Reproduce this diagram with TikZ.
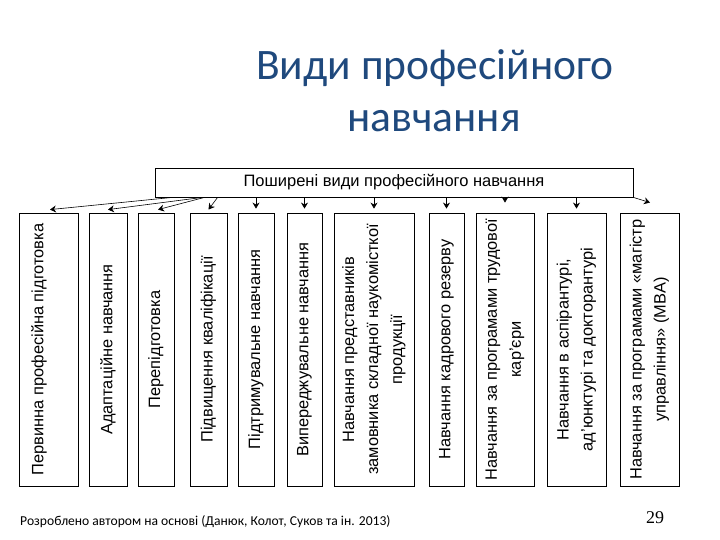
\documentclass[tikz,border=0pt]{standalone}
\usepackage{fontspec}
\setmainfont{Liberation Sans}
\newfontfamily\titlefont{Carlito}
\newfontfamily\numfont{Liberation Serif}
\usetikzlibrary{arrows.meta,calc}
\definecolor{titleblue}{RGB}{31,73,125}
\begin{document}
\begin{tikzpicture}[x=1pt,y=1pt,
  vbox/.style={draw, line width=0.8pt, rotate=90, minimum width=273pt, inner sep=0pt, align=center, font=\fontsize{16.4}{24}\selectfont},
  topbox/.style={draw, line width=0.8pt, minimum width=478pt, minimum height=29pt, inner sep=0pt, font=\fontsize{16.5}{19}\selectfont},
  conn/.style={-{Stealth[length=6pt,width=7pt]}, line width=0.6pt},
]
\useasboundingbox (0,0) rectangle (720,540);
% title
\node[font=\titlefont\fontsize{43.5}{50}\selectfont, text=titleblue, anchor=base] (title1) at (435,460) {Види професійного};
\node[font=\titlefont\fontsize{43.5}{50}\selectfont, text=titleblue, anchor=base] (title2) at (434,408) {навчання};
% top box
\node[topbox] (top) at (394,357.5) {Поширені види професійного навчання};
% vertical boxes
\node[vbox, minimum height=59pt] (b1) at (48.5,190.5) {};
\node[rotate=90, inner sep=0pt, font=\fontsize{16.4}{24}\selectfont] (t1) at (39,190.5) {Первинна професійна підготовка};
\node[vbox, minimum height=38pt] (b2) at (108,190.5) {Адаптаційне навчання};
\node[vbox, minimum height=36pt] (b3) at (156,190.5) {Перепідготовка};
\node[vbox, minimum height=37pt] (b4) at (208.5,190.5) {Підвищення кваліфікації};
\node[vbox, minimum height=36pt] (b5) at (256,190.5) {Підтримувальне навчання};
\node[vbox, minimum height=35pt] (b6) at (304.5,190.5) {Випереджувальне навчання};
\node[vbox, minimum height=80pt] (b7) at (374,190.5) {Навчання представників\\замовника складної наукомісткої\\продукції};
\node[vbox, minimum height=35pt] (b8) at (446.5,190.5) {Навчання кадрового резерву};
\node[vbox, minimum height=58pt] (b9) at (505,190.5) {Навчання за програмами трудової\\кар'єри};
\node[vbox, minimum height=59pt] (b10) at (576.5,190.5) {Навчання в аспірантурі,\\ад'юнктурі та докторантурі};
\node[vbox, minimum height=59pt] (b11) at (649.5,190.5) {Навчання за програмами «магістр\\управління» (MBA)};
% start points on the top box
\coordinate (s1) at ($(top.south west)+(18,0)$);
\coordinate (s2) at ($(top.south west)+(48,0)$);
\coordinate (s3) at ($(top.south west)+(50,0)$);
\coordinate (s4) at ($(top.south west)+(63,0)$);
% connectors
\draw[conn] (s1) -- ($(b1.east)+(1.5,3)$);
\draw[conn] (s2) -- ($(b2.east)+(0,3)$);
\draw[conn] (s3) -- ($(b3.east)+(2,3)$);
\draw[conn] (s4) -- ($(b4.east)+(0,3)$);
\foreach \b in {b5,b6,b7,b8,b10}{
  \draw[conn] (\b.east |- top.south) -- ($(\b.east)+(0,4)$);
}
\draw[conn] (b9.east |- top.south) -- ($(b9.east)+(0,10)$);
\draw[conn] (top.south east) -- ($(b11.east)+(0.5,10)$);
% footer
\node[anchor=base west, inner sep=0pt, font=\titlefont\fontsize{13.6}{16}\selectfont] (note) at (20,14) {Розроблено автором на основі (Данюк, Колот, Суков та ін. 2013)};
\node[anchor=base, inner sep=0pt, font=\numfont\fontsize{18}{20}\selectfont] (page) at (655,16) {29};
\end{tikzpicture}
\end{document}
